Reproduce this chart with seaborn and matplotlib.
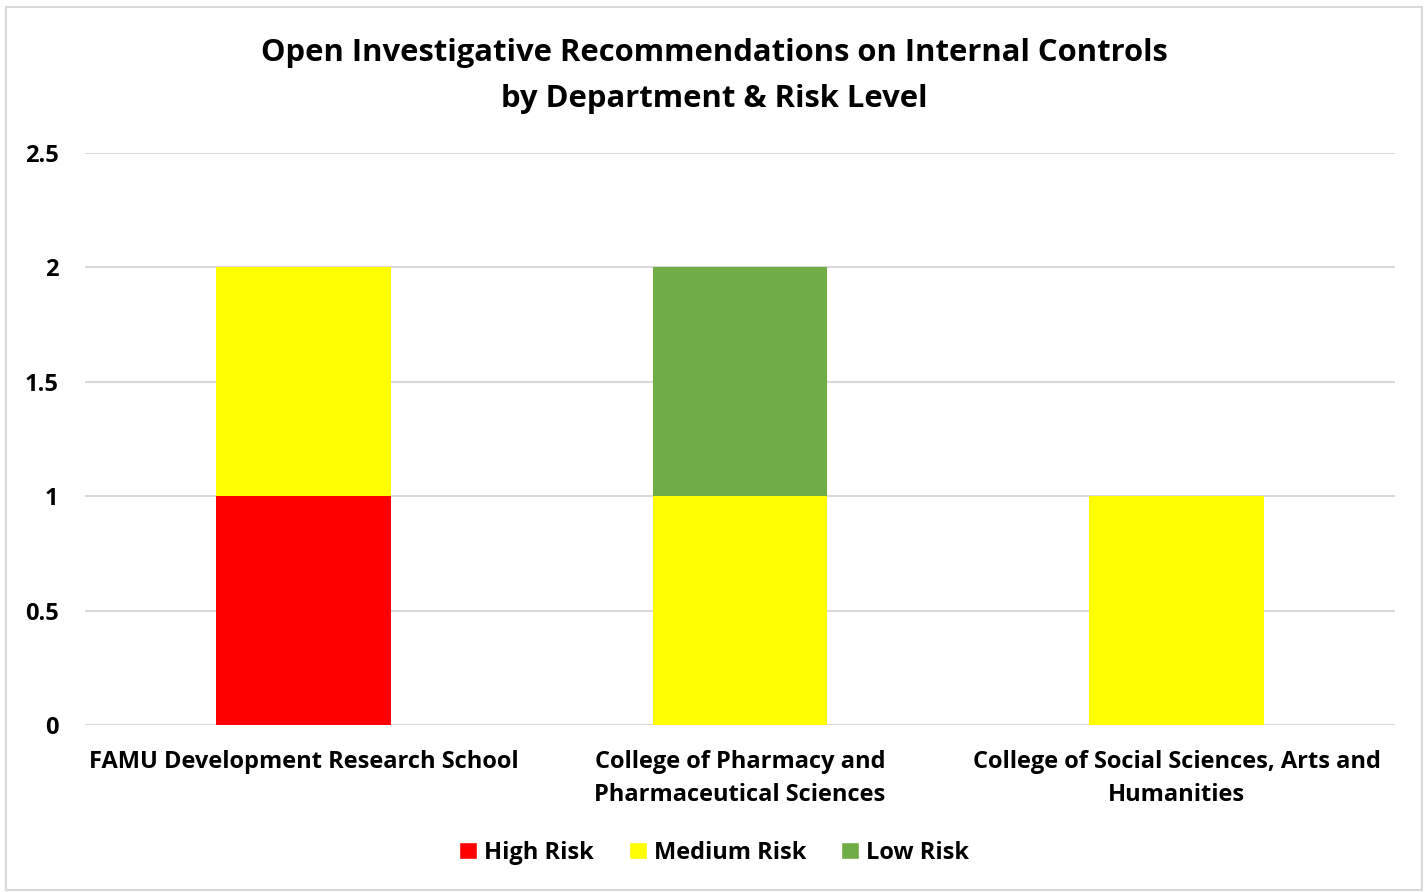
import numpy as np
import pandas as pd
import seaborn as sns
import matplotlib.pyplot as plt
from matplotlib.patches import Rectangle, Patch

departments = ["FAMU Development Research School",
               "College of Pharmacy and\nPharmaceutical Sciences",
               "College of Social Sciences, Arts and\nHumanities"]
high_risk = [1, 0, 0]
medium_risk = [1, 1, 1]
low_risk = [0, 1, 0]
series_names = ["High Risk", "Medium Risk", "Low Risk"]
series_colors = ["#FF0000", "#FFFF00", "#70AD47"]
yticks = [0, 0.5, 1, 1.5, 2, 2.5]
ytick_labels = ["0", "0.5", "1", "1.5", "2", "2.5"]

sns.set_style("white")
plt.rcParams['font.family'] = ['Open Sans', 'DejaVu Sans']
plt.rcParams['text.color'] = 'black'
plt.rcParams['xtick.color'] = 'black'
plt.rcParams['ytick.color'] = 'black'

df = pd.DataFrame({"dept": departments, "High Risk": high_risk,
                   "Medium Risk": medium_risk, "Low Risk": low_risk})

fig = plt.figure(figsize=(14.28, 8.92), dpi=100)
ax = fig.add_axes([85 / 1428, 1 - 725 / 892, 1310 / 1428, 572 / 892])

# 堆叠柱状图
bottom = np.zeros(len(df))
for name, color in zip(series_names, series_colors):
    sns.barplot(data=df, x="dept", y=name, color=color, width=0.4,
                bottom=bottom, saturation=1, linewidth=0, ax=ax, zorder=3)
    bottom = bottom + df[name].values

ax.set_ylim(0, 2.5)
ax.set_yticks(yticks)
ax.set_yticklabels(ytick_labels)
ax.yaxis.grid(True, color="#D9D9D9", linewidth=1.5, zorder=0)
ax.set_axisbelow(True)
for s in ax.spines.values():
    s.set_visible(False)
ax.tick_params(axis="both", length=0, labelsize=17)
ax.tick_params(axis="y", pad=19)
ax.tick_params(axis="x", pad=18)
for lab in ax.get_xticklabels() + ax.get_yticklabels():
    lab.set_fontweight("bold")
    lab.set_linespacing(1.5)
ax.set_xlabel("")
ax.set_ylabel("")

fig.text(0.5, 1 - 76 / 892,
         "Open Investigative Recommendations on Internal Controls\nby Department & Risk Level",
         ha="center", va="center", fontsize=22.3, fontweight="bold", linespacing=1.7)

handles = [Patch(facecolor=c, label=n) for n, c in zip(series_names, series_colors)]
fig.legend(handles=handles, loc="center", bbox_to_anchor=(0.5, 1 - 853 / 892),
           ncol=3, frameon=False, prop={"size": 17, "weight": "bold"},
           handlelength=0.75, handleheight=0.75, handletextpad=0.3, columnspacing=1.5)

fig.patches.append(Rectangle((6 / 1428, 0.002), 1416 / 1428, 1 - 7 / 892 - 0.002,
                             transform=fig.transFigure, fill=False,
                             edgecolor="#D9D9D9", linewidth=1.5))

fig.savefig("out.png", dpi=100)
